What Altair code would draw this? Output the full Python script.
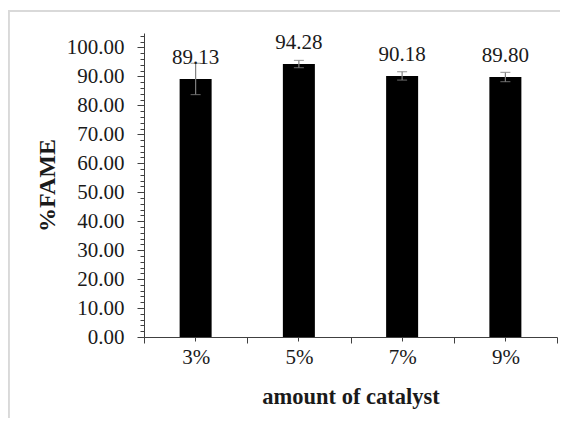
import altair as alt
import pandas as pd

categories = ["3%", "5%", "7%", "9%"]
values = [89.13, 94.28, 90.18, 89.80]
errors = [5.4, 1.25, 1.45, 1.6]

df = pd.DataFrame({"cat": categories, "val": values, "err": errors})
df["lo"] = df["val"] - df["err"]
df["hi"] = df["val"] + df["err"]

FONT = "Liberation Serif"
AX = "#404040"
TXT = "#1a1a1a"

xscale = alt.Scale(domain=categories, paddingInner=0, paddingOuter=0)
yscale = alt.Scale(domain=[0, 105], nice=False, zero=True)

major_x = alt.Axis(
    orient="bottom", tickBand="extent", tickSize=6, tickColor=AX, domainColor=AX,
    labelFont=FONT, labelFontSize=21, labelColor=TXT, labelAngle=0,
    labelPadding=14, labelBaseline="middle",
    title="amount of catalyst", titleFont=FONT, titleFontSize=22.5,
    titleFontWeight="bold", titleColor=TXT, titleBaseline="middle",
    titleY=59, grid=False,
)
minor_x = alt.Axis(
    orient="bottom", tickSize=4, tickColor=AX, domain=False, labels=False,
    title=None, grid=False,
)
major_y = alt.Axis(
    orient="left", values=list(range(0, 101, 10)), format=".2f", tickSize=7,
    tickColor=AX, domainColor=AX, labelFont=FONT, labelFontSize=21,
    labelColor=TXT, labelPadding=13, labelBaseline="middle",
    title="%FAME", titleFont=FONT, titleFontSize=24, titleFontWeight="bold",
    titleColor=TXT, titleAngle=270, titleAlign="center", titleBaseline="middle",
    titleX=-97, titleY=152, grid=False,
)
minor_y = alt.Axis(
    orient="left", values=list(range(0, 105, 2)), tickSize=4, tickColor=AX,
    domain=False, labels=False, title=None, grid=False,
)

base = alt.Chart(df)

bars = base.mark_bar(color="black", width=alt.RelativeBandSize(0.31)).encode(
    x=alt.X("cat:N", scale=xscale, sort=categories, axis=major_x),
    y=alt.Y("val:Q", scale=yscale, axis=major_y),
)

minor = base.mark_point(opacity=0).encode(
    x=alt.X("cat:N", sort=categories, axis=minor_x),
    y=alt.Y("val:Q", axis=minor_y),
)

err_rule = base.mark_rule(color="#7f7f7f", strokeWidth=1.2).encode(
    x=alt.X("cat:N", sort=categories, axis=None),
    y=alt.Y("lo:Q", axis=None),
    y2="hi:Q",
)
cap_lo = base.mark_tick(color="#7f7f7f", size=10, thickness=1.2, orient="horizontal").encode(
    x=alt.X("cat:N", sort=categories, axis=None),
    y=alt.Y("lo:Q", axis=None),
)
cap_hi = base.mark_tick(color="#7f7f7f", size=10, thickness=1.2, orient="horizontal").encode(
    x=alt.X("cat:N", sort=categories, axis=None),
    y=alt.Y("hi:Q", axis=None),
)

labels = base.mark_text(font=FONT, fontSize=21, color=TXT, baseline="middle", dy=-21).encode(
    x=alt.X("cat:N", sort=categories, axis=None),
    y=alt.Y("val:Q", axis=None),
    text=alt.Text("val:Q", format=".2f"),
)

frame_top = base.mark_rule(color="#d9d9d9", strokeWidth=2).encode(
    x=alt.value(-136), x2=alt.value(430), y=alt.value(-22)
)
frame_left = base.mark_rule(color="#d9d9d9", strokeWidth=2).encode(
    x=alt.value(-135.5), y=alt.value(-23), y2=alt.value(400)
)

chart = (
    alt.layer(minor, bars, err_rule, cap_lo, cap_hi, labels, frame_top, frame_left)
    .resolve_axis(x="independent", y="independent")
    .properties(
        width=413, height=304,
        padding={"left": 136, "top": 25, "right": 3, "bottom": 81},
        autosize=alt.AutoSizeParams(type="none"),
        background="white",
    )
    .configure_view(stroke=None)
)

chart.save("out.html", embed_options={"renderer": "svg", "actions": False})
